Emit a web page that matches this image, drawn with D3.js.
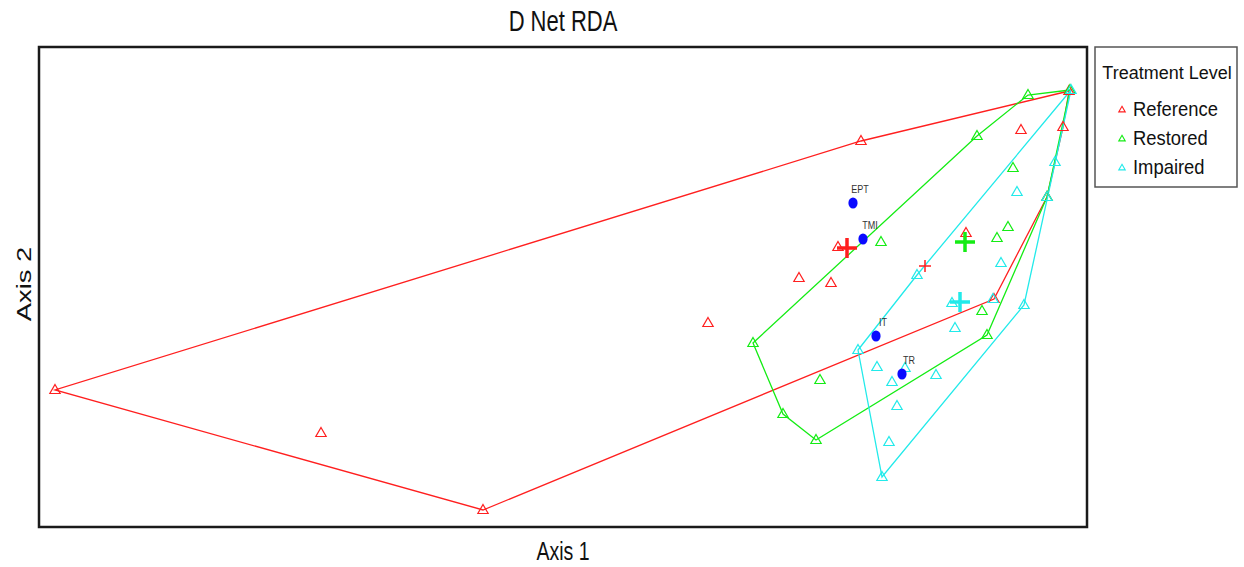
<!DOCTYPE html>
<html>
<head>
<meta charset="utf-8">
<script src="https://cdn.jsdelivr.net/npm/d3@7.9.0/dist/d3.min.js"></script>
<style>
  body { margin: 0; background: #fff; }
  svg { display: block; font-family: "Liberation Sans", Arial, sans-serif; }
</style>
</head>
<body>
<div id="chart"></div>
<script>
// site scores per treatment level [axis1, axis2]
const reference = [
  [-3.92, -0.515], [-2.59, -0.73], [-1.78, -1.115], [-0.655, -0.18],
  [0.11, 0.73], [0.91, 0.785], [1.12, 0.80], [-0.005, 0.20],
  [-0.20, 0.045], [-0.04, 0.02], [0.635, 0.27], [1.15, 0.98],
  [1.04, 0.45], [0.775, -0.06]
];
const restored = [
  [0.945, 0.96], [0.69, 0.755], [0.21, 0.225], [0.79, 0.245],
  [0.845, 0.30], [0.87, 0.595], [1.155, 0.985], [1.04, 0.45],
  [0.74, -0.24], [0.715, -0.12], [-0.095, -0.465], [-0.28, -0.635],
  [-0.115, -0.765], [-0.43, -0.28]
];
const impaired = [
  [1.16, 0.985], [1.08, 0.625], [0.89, 0.475], [1.04, 0.45],
  [0.39, 0.06], [0.81, 0.12], [0.77, -0.06], [0.925, -0.09],
  [0.58, -0.205], [0.565, -0.08], [0.095, -0.315], [0.19, -0.40],
  [0.265, -0.475], [0.33, -0.405], [0.485, -0.44], [0.29, -0.595],
  [0.25, -0.775], [0.215, -0.95]
];

const levels = ['Reference', 'Restored', 'Impaired'];
const levelColors = ['#ff1f1f', '#14ec14', '#22eaea'];

// group centroids
const centroids = [[0.04, 0.195], [0.63, 0.225], [0.605, -0.075]];
const smallCentroid = [0.43, 0.105];

// variable scores
const varNames = ['EPT', 'TMI', 'IT', 'TR'];
const varScores = [[0.07, 0.42], [0.12, 0.24], [0.185, -0.245], [0.315, -0.435]];

const W = 1244, H = 567;
const box = { left: 39, right: 1087, top: 47, bottom: 527 };
const stretch = 1.3; // text in the reference is vertically stretched

const svg = d3.select('#chart').append('svg')
  .attr('width', W).attr('height', H);

const x = d3.scaleLinear().domain([-4, 1.24]).range([box.left, box.right]);
const y = d3.scaleLinear().domain([-1.2, 1.2]).range([box.bottom, box.top]);

function stretchedText(g, tx, ty, str, opts) {
  return g.append('text')
    .attr('transform', `translate(${tx},${ty}) ${opts.rotate ? 'scale(1,' + stretch + ') rotate(-90)' : 'scale(1,' + (opts.sy || stretch) + ')'}`)
    .attr('text-anchor', opts.anchor || 'middle')
    .attr('font-size', opts.size)
    .attr('fill', opts.fill || '#111')
    .text(str);
}

// title and axis labels
stretchedText(svg, 563, 31, 'D Net RDA', { size: 22 });
stretchedText(svg, 563, 560, 'Axis 1', { size: 19.5 });
stretchedText(svg, 31, 284, 'Axis 2', { size: 21, rotate: true });

// hulls
const groups = [reference, restored, impaired];
const hullG = svg.append('g');
groups.forEach((pts, i) => {
  const hull = d3.polygonHull(pts.map(p => [x(p[0]), y(p[1])]));
  hullG.append('path')
    .attr('d', 'M' + hull.join('L') + 'Z')
    .attr('fill', 'none')
    .attr('stroke', levelColors[i])
    .attr('stroke-width', 1.3);
});

// points
const tri = d3.symbol(d3.symbolTriangle, 46);
groups.forEach((pts, i) => {
  svg.append('g').selectAll('path')
    .data(pts)
    .join('path')
    .attr('d', tri)
    .attr('transform', d => `translate(${x(d[0])},${y(d[1]) + 0.5})`)
    .attr('fill', 'none')
    .attr('stroke', levelColors[i])
    .attr('stroke-width', 1.2);
});

// centroid crosses
function cross(g, cx, cy, arm, width, color) {
  g.append('path')
    .attr('d', `M${cx - arm},${cy}H${cx + arm}M${cx},${cy - arm}V${cy + arm}`)
    .attr('stroke', color)
    .attr('stroke-width', width)
    .attr('fill', 'none');
}
const crossG = svg.append('g');
centroids.forEach((c, i) => cross(crossG, x(c[0]), y(c[1]), 10, 3.5, levelColors[i]));
cross(crossG, x(smallCentroid[0]), y(smallCentroid[1]), 6, 1.5, levelColors[0]);

// variables
const varG = svg.append('g');
varScores.forEach((v, i) => {
  varG.append('ellipse')
    .attr('cx', x(v[0])).attr('cy', y(v[1]))
    .attr('rx', 4.6).attr('ry', 5.6)
    .attr('fill', '#0a0aff');
  stretchedText(varG, x(v[0]) + 7, y(v[1]) - 10.5, varNames[i], { size: 9, fill: '#333' });
});

// frame
svg.append('rect')
  .attr('x', box.left).attr('y', box.top)
  .attr('width', box.right - box.left).attr('height', box.bottom - box.top)
  .attr('fill', 'none').attr('stroke', '#1a1a1a').attr('stroke-width', 2.5);

// legend
const lg = svg.append('g');
lg.append('rect')
  .attr('x', 1095).attr('y', 47).attr('width', 142).attr('height', 140)
  .attr('fill', '#fff').attr('stroke', '#555').attr('stroke-width', 1.5);
stretchedText(lg, 1167, 79, 'Treatment Level', { size: 18, sy: 1.05 });
const legTri = d3.symbol(d3.symbolTriangle, 18);
levels.forEach((name, i) => {
  const ly = 116 + i * 29;
  lg.append('path')
    .attr('d', legTri)
    .attr('transform', `translate(1122,${ly - 6})`)
    .attr('fill', 'none').attr('stroke', levelColors[i]).attr('stroke-width', 1.1);
  stretchedText(lg, 1133, ly, name, { size: 18.4, anchor: 'start', sy: 1.05 });
});
</script>
</body>
</html>
